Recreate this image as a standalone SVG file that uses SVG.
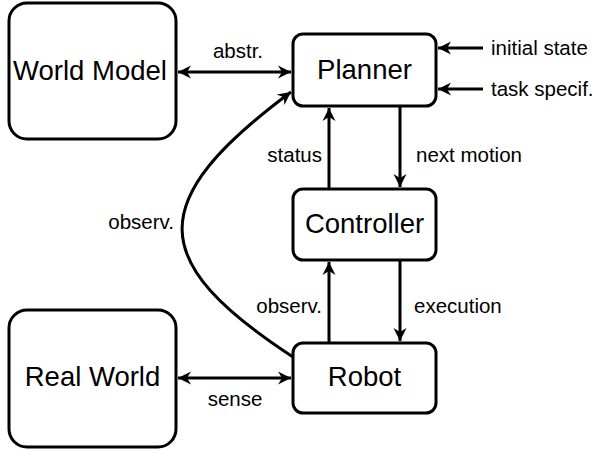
<svg xmlns="http://www.w3.org/2000/svg" width="596" height="451" viewBox="0 0 596 451">
<style>
.box{fill:#fff;stroke:#000;stroke-width:3}
.nt{font-family:"Liberation Sans",Arial,sans-serif;font-size:27.5px;text-anchor:middle;fill:#000}
.lb{font-family:"Liberation Sans",Arial,sans-serif;font-size:20.5px;fill:#000}
.c{fill:none;stroke:#000;stroke-width:3}
</style>
<defs>
<marker id="ah" viewBox="-14 -7 15 14" refX="0" refY="0" markerWidth="15" markerHeight="14" markerUnits="userSpaceOnUse" orient="auto-start-reverse">
<path d="M0,0 L-13,-6.5 L-9,0 L-13,6.5 Z" fill="#000"/>
</marker>
</defs>
<g id="world-model"><rect class="box" x="9" y="3" width="167" height="136" rx="18"/><text class="nt" x="90" y="80">World Model</text></g>
<g id="planner"><rect class="box" x="293" y="34" width="143" height="72" rx="10"/><text class="nt" x="364.5" y="79">Planner</text></g>
<g id="controller"><rect class="box" x="293" y="189" width="143" height="71" rx="10"/><text class="nt" x="364.5" y="233">Controller</text></g>
<g id="robot"><rect class="box" x="293" y="343" width="143" height="70" rx="10"/><text class="nt" x="364.5" y="386">Robot</text></g>
<g id="real-world"><rect class="box" x="9" y="310" width="167" height="137" rx="18"/><text class="nt" x="92.5" y="386">Real World</text></g>
<g id="connectors">
<path class="c" d="M178,72 L291,72" marker-start="url(#ah)" marker-end="url(#ah)"/>
<path class="c" d="M178,378 L291,378" marker-start="url(#ah)" marker-end="url(#ah)"/>
<path class="c" d="M483,48 L438,48" marker-end="url(#ah)"/>
<path class="c" d="M483,89 L438,89" marker-end="url(#ah)"/>
<path class="c" d="M400,106 L400,187" marker-end="url(#ah)"/>
<path class="c" d="M329,189 L329,108" marker-end="url(#ah)"/>
<path class="c" d="M400,260 L400,341" marker-end="url(#ah)"/>
<path class="c" d="M329,343 L329,262" marker-end="url(#ah)"/>
<path class="c" d="M293,357 C148,262 143,202 291,92" marker-end="url(#ah)"/>
<text class="lb" x="238" y="58" text-anchor="middle">abstr.</text>
<text class="lb" x="235" y="406" text-anchor="middle">sense</text>
<text class="lb" x="491" y="55">initial state</text>
<text class="lb" x="491" y="96">task specif.</text>
<text class="lb" x="322" y="162" text-anchor="end">status</text>
<text class="lb" x="416" y="162">next motion</text>
<text class="lb" x="322" y="313" text-anchor="end">observ.</text>
<text class="lb" x="414" y="313">execution</text>
<text class="lb" x="174" y="229" text-anchor="end">observ.</text>
</g>
</svg>
